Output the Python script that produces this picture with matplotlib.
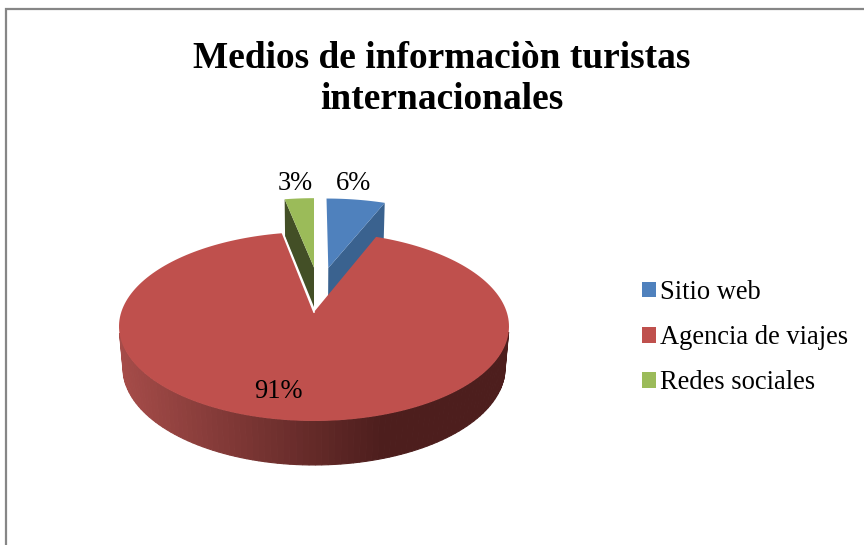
import numpy as np
import matplotlib
matplotlib.use("Agg")
import matplotlib.pyplot as plt
from matplotlib.patches import Patch

title = "Medios de informaciòn turistas\ninternacionales"
categories = ["Sitio web", "Agencia de viajes", "Redes sociales"]
values = [6, 91, 3]
labels = ["6%", "91%", "3%"]

colors = ["#4F81BD", "#BF504D", "#9BBB59"]
wall_colors = ["#3A628F", "#4D1E1D", "#434F26"]
# how far each slice is pulled out, in pie radii
explode = [(0.08, 0.514), (0, 0), (0, 0.52)]


def project(u, v, bottom=False):
    # perspective view of the pie plane, top face or bottom face
    u = np.asarray(u, dtype=float)
    v = np.asarray(v, dtype=float)
    if bottom:
        d = 1 + 0.149 * v
        return 314 + 189 * u / d, 353 - 95.3 * v / d
    d = 1 + 0.153 * v
    return 314 + 192.7 * u / d, 312 - 92.3 * v / d


def lerp_color(c1, c2, t):
    a = np.array(matplotlib.colors.to_rgb(c1))
    b = np.array(matplotlib.colors.to_rgb(c2))
    return a + (b - a) * t


plt.rcParams['font.family'] = ['Liberation Serif', 'DejaVu Serif']
fig = plt.figure(figsize=(8.64, 5.45), dpi=100)
ax = fig.add_axes([0, 0, 1, 1])
ax.set_xlim(0, 864)
ax.set_ylim(545, 0)
ax.axis("off")

# chart frame, only top and left are inside the crop
ax.plot([6, 6, 864], [545, 9, 9], color="#868686", lw=1.6, solid_joinstyle="miter")

# slice angles clockwise from 12 o'clock
edges = np.cumsum([0] + values) / sum(values) * 2 * np.pi
slices = []
for i in range(len(values)):
    t = np.linspace(edges[i], edges[i + 1], 200)
    slices.append((t, explode[i][0] + np.sin(t), explode[i][1] + np.cos(t)))

draw_order = [2, 0, 1]
for i in draw_order:
    t, u, v = slices[i]
    ox, oy = explode[i]
    tx, ty = project(u, v)
    if i != 1:
        # the cut faces you can see behind the big slice
        k = -1 if i == 0 else 0
        x1, y1 = project(ox, oy)
        x2, y2 = project(u[k], v[k])
        x3, y3 = project(u[k], v[k], bottom=True)
        x4, y4 = project(ox, oy, bottom=True)
        ax.fill([x1, x2, x3, x4], [y1, y2, y3, y4], color=wall_colors[i], lw=0)
    else:
        # round side of the big slice, shaded from left to right
        bx, by = project(u, v, bottom=True)
        front = np.where(np.cos(t) < -0.2)[0]
        for a, b in zip(front[:-1], front[1:]):
            s = np.clip((tx[a] - 119) / (384 - 119), 0, 1)
            ax.fill([tx[a], tx[b], bx[b], bx[a]], [ty[a], ty[b], by[b], by[a]],
                    color=lerp_color("#A64C49", wall_colors[1], s), lw=0.8)
    x0, y0 = project(ox, oy)
    ax.fill(np.r_[x0, tx], np.r_[y0, ty], color=colors[i], lw=0)
    if i == 1:
        ax.plot([tx[-1], x0], [ty[-1], y0], color="white", lw=1.2)

ax.text(441.5, 79, title, ha="center", va="center", fontsize=26.9, fontweight="bold",
        linespacing=1.24, color="black")

# data labels
ax.text(353.5, 184, labels[0], ha="center", va="center", fontsize=19.1)
ax.text(278, 392, labels[1], ha="center", va="center", fontsize=19.1)
ax.text(295, 184, labels[2], ha="center", va="center", fontsize=19.1)

handles = [Patch(facecolor=c, edgecolor="none", label=n) for c, n in zip(colors, categories)]
ax.legend(handles=handles, loc="upper left", bbox_to_anchor=(642 / 864, 1 - 280 / 545),
          bbox_transform=ax.transAxes, frameon=False, fontsize=19.1, handlelength=0.53,
          handleheight=0.53, handletextpad=0.14, labelspacing=0.76, borderpad=0, borderaxespad=0)

fig.savefig("out.png", dpi=100)
